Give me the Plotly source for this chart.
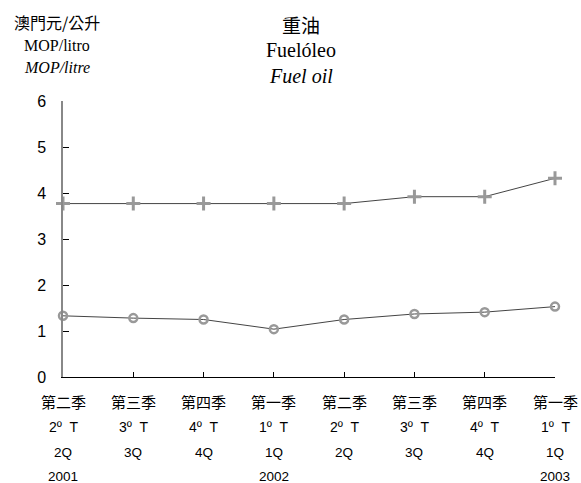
import plotly.graph_objects as go

# ---- data ----
quarters_zh = ["第二季", "第三季", "第四季", "第一季", "第二季", "第三季", "第四季", "第一季"]
quarters_pt = ["2º  T", "3º  T", "4º  T", "1º  T", "2º  T", "3º  T", "4º  T", "1º  T"]
quarters_en = ["2Q", "3Q", "4Q", "1Q", "2Q", "3Q", "4Q", "1Q"]
years = ["2001", "", "", "2002", "", "", "", "2003"]
series_upper = [3.77, 3.77, 3.77, 3.77, 3.77, 3.92, 3.92, 4.32]
series_lower = [1.33, 1.28, 1.25, 1.04, 1.25, 1.37, 1.41, 1.53]
y_ticks = [0, 1, 2, 3, 4, 5, 6]

W, H = 581, 483
L, R, T, B = 63, 26, 101, 106
plot_h = H - T - B

CJK = "Noto Sans CJK TC"
SANS = "Liberation Sans"
SERIF = "Liberation Serif"

x_idx = list(range(len(quarters_zh)))

fig = go.Figure()
fig.add_trace(go.Scatter(
    x=x_idx, y=series_upper, mode="lines+markers",
    line=dict(color="#444444", width=1),
    marker=dict(symbol="cross-thin", size=10, color="#999999",
                line=dict(color="#999999", width=3)),
    cliponaxis=False, showlegend=False,
))
fig.add_trace(go.Scatter(
    x=x_idx, y=series_lower, mode="lines+markers",
    line=dict(color="#444444", width=1),
    marker=dict(symbol="circle-open", size=8, color="#999999",
                line=dict(color="#999999", width=2.5)),
    cliponaxis=False, showlegend=False,
))


def py_to_paper(py):
    return (H - B - py) / plot_h


annotations = []
rows = [(quarters_zh, 401, CJK, 15), (quarters_pt, 427, SANS, 14),
        (quarters_en, 452, SANS, 13.5), (years, 476, SANS, 13.5)]
for labels, py, fam, sz in rows:
    for i, t in enumerate(labels):
        if not t:
            continue
        annotations.append(dict(
            x=i, xref="x", y=py_to_paper(py), yref="paper",
            text=t, showarrow=False, xanchor="center", yanchor="middle",
            font=dict(family=fam, size=sz, color="#000000")))

# titles
title_lines = [("重油", 24, CJK, 19, False), ("Fuelóleo", 50, SERIF, 20, False),
               ("Fuel oil", 76, SERIF, 20, True)]
for t, py, fam, sz, it in title_lines:
    annotations.append(dict(
        x=301, y=py, xref="paper", yref="paper", text=t,
        showarrow=False, xanchor="center", yanchor="middle",
        font=dict(family=fam, size=sz, color="#000000",
                  style="italic" if it else "normal")))
units = [("澳門元/公升", 22, CJK, 16, False), ("MOP/litro", 45, SERIF, 16, False),
         ("MOP/litre", 68, SERIF, 16, True)]
for t, py, fam, sz, it in units:
    annotations.append(dict(
        x=57, y=py, xref="paper", yref="paper", text=t,
        showarrow=False, xanchor="center", yanchor="middle",
        font=dict(family=fam, size=sz, color="#000000",
                  style="italic" if it else "normal")))

# convert pixel-based title/unit annotations into paper coords
for a in annotations:
    if a["xref"] == "paper" and a["yref"] == "paper" and a["x"] > 1:
        a["x"] = (a["x"] - L) / (W - L - R)
        a["y"] = py_to_paper(a["y"])

fig.update_layout(
    width=W, height=H,
    margin=dict(l=L, r=R, t=T, b=B, autoexpand=False),
    paper_bgcolor="white", plot_bgcolor="white",
    annotations=annotations,
    xaxis=dict(range=[0, len(x_idx) - 1], tickvals=x_idx, showticklabels=False,
               ticks="inside", ticklen=5, tickcolor="#000000", tickwidth=1,
               showline=True, linecolor="#000000", linewidth=1,
               showgrid=False, zeroline=False, fixedrange=True),
    yaxis=dict(range=[0, 6], tickvals=y_ticks, ticktext=[str(v) for v in y_ticks],
               ticks="inside", ticklen=6, tickcolor="#000000", tickwidth=1,
               showline=True, linecolor="#888888", linewidth=1.5,
               showgrid=False, zeroline=False, ticklabelstandoff=12,
               tickfont=dict(family=SANS, size=16, color="#000000"), fixedrange=True),
)

fig.write_html(
    "out.html",
    config={"displayModeBar": False},
    post_script="document.body.style.margin='0';document.body.style.padding='0';"
                "document.body.style.overflow='hidden';",
)
